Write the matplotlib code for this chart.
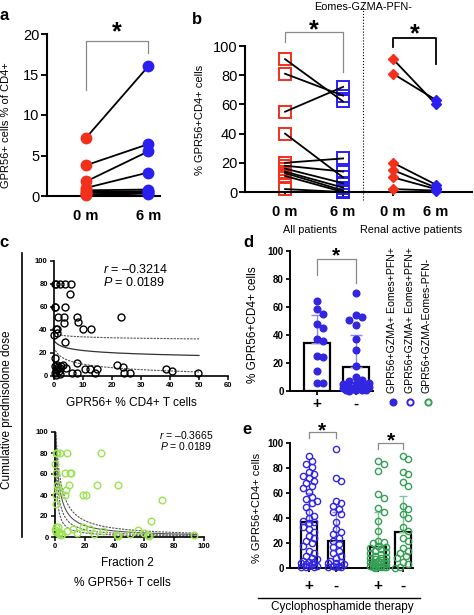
import numpy as np
import matplotlib
matplotlib.use("Agg")
import matplotlib.pyplot as plt
from matplotlib.lines import Line2D

plt.rcParams['font.family'] = ['Liberation Sans', 'DejaVu Sans']
plt.rcParams['mathtext.fontset'] = 'custom'
plt.rcParams['mathtext.it'] = 'Liberation Sans:italic'
plt.rcParams['mathtext.rm'] = 'Liberation Sans'

W, H = 474, 615

# ---- data -----------------------------------------------------------
# a: paired GPR56+ % of CD4+
a_0m = [7.2, 3.8, 1.8, 1.0, 0.7, 0.5, 0.4, 0.2, 0.1]
a_6m = [16.0, 6.4, 5.5, 2.9, 0.8, 0.6, 0.5, 0.4, 0.3]

# b: Eomes-GZMA-PFN- (all patients / renal active)
b_all_0m = [91, 81, 55, 40, 20, 18, 16, 14, 13, 11, 2]
b_all_6m = [62, 66, 72, 10, 23, 14, 6, 3, 1, 0, 0]
b_ren_0m = [91, 81, 20, 15, 10, 2]
b_ren_6m = [60, 63, 5, 3, 2, 1]
time_labels = ['0 m', '6 m', '0 m', '6 m']

# c top: prednisolone vs GPR56+ % CD4+
c1_x = [0.3, 0.8, 2.1, 3.8, 5.8,
        5.5,
        0.2, 0.4, 3.8,
        1.4, 3.4, 7.9, 23.1, 8.3, 3.4,
        0.7, 1.0, 10.0, 12.8, 0.1, 1.2,
        3.8, 0.3,
        0.5, 1.0, 1.5, 2.0, 2.5, 3.0, 4.0, 0.8, 1.8, 0.2, 1.2, 2.2, 0.6,
        7.9, 6.2, 7.9, 10.7, 12.4, 14.8, 14.1, 21.7, 23.8, 24.1, 26.2, 38.6, 40.7, 49.7]
c1_y = [80, 80, 80, 80, 80,
        71,
        60, 60, 60,
        51, 51, 51, 51, 47, 46,
        41, 41, 41, 41, 36, 37,
        30, 16,
        9, 10, 8, 7, 9, 10, 7, 5, 4, 3, 6, 2, 1,
        11, 3, 3, 6, 6, 6, 3, 10, 8, 3, 3, 6, 4, 2.5]
# fit y = a*(x+1)^b, and upper band
c1_fit = (31.0, -0.14)
c1_upper = (37.0, -0.035)

# c bottom: Fraction 2
c2_x = [0.7, 1.5, 3.4, 8.3, 31.0,
        0.0,
        0.7, 6.7, 10.0, 11.0,
        1.1, 9.6, 28.0, 42.0,
        7.4, 1.9,
        6.7, 19.0, 20.8, 0.7,
        0.4, 71.6, 64.4,
        0.5, 2.0, 0.3, 3.0, 5.0, 12.0, 19.0, 23.5, 32.0, 56.0, 60.0, 62.4,
        41.6, 42.5, 50.0, 93.0, 1.0, 2.5, 4.0, 8.0, 15.0, 26.0, 63.0]
c2_y = [80, 80, 80, 80, 80,
        70,
        61, 61, 61, 61,
        50, 50, 50, 50,
        45, 46,
        40, 40, 40, 40,
        31, 35, 15,
        10, 10, 7, 5, 3, 8, 10, 8, 6, 7, 4, 2,
        2, 1, 3, 2, 5, 3, 2, 6, 4, 3, 1]
# hyperbolic curves y = a/(x+c)
c2_curves = [(360, 3.0), (240, 2.0), (150, 1.2), (80, 0.6)]

# d
d_pos = [64.5, 58.6, 55, 48, 45, 37, 36, 25, 24, 14.3, 5.5, 5.5]
d_neg = [70, 54, 53, 51, 47, 37, 29, 18, 10, 8, 7, 6, 5, 5, 4, 3, 3, 2, 2,
         1.5, 1, 1, 0.5, 0.5, 0.3]
d_means = [34, 17.5]
d_sd = [20.5, 22.2]
d_legend = ['GPR56+GZMA+ Eomes+PFN+', 'GPR56+GZMA+ Eomes+PFN+', 'GPR56+GZMA-Eomes-PFN-']

# e
e_blue_pos = [90, 86, 83, 81, 77, 75, 74, 72, 70, 68, 66, 64, 61, 57, 55, 54, 52,
              49, 45, 42, 40, 38, 37, 36, 33, 31, 29, 26, 24, 22, 20, 18, 14, 12,
              10, 8, 7, 6, 5, 5, 4, 3, 3, 2, 2, 1, 1, 0.5]
e_blue_neg = [95, 72, 70, 54, 52, 50, 47, 45, 43, 37, 31, 29, 27, 24, 22, 19, 17,
              14, 12, 10, 8, 6, 5, 4, 4, 3, 2, 2, 1, 1, 0.5]
e_green_pos = [86, 83, 78, 59, 56, 48, 45, 38, 30, 22, 21, 20, 18, 17, 16, 15, 14,
               13, 12, 11, 10, 9, 8, 8, 7, 6, 6, 5, 5, 4, 4, 3, 3, 3, 2, 2, 2, 1,
               1, 1, 0.5, 0.5, 0]
e_green_neg = [90, 87, 77, 75, 69, 66, 50, 47, 43, 40, 33, 30, 24, 22, 16, 14, 12,
               10, 8, 5, 3, 1, 0]
e_means = [37, 22, 17, 29]
e_sd = [23, 23, 28, 29]

RED = '#f2301c'
BLUE = '#2a1ef0'
DBLUE = '#3326e0'
GREEN = '#35a055'
LIME = '#9be451'


def px_axes(fig, l, t, r, b):
    return fig.add_axes([l / W, 1 - b / H, (r - l) / W, (b - t) / H])


def ftext(x, y, s, **kw):
    fig.text(x / W, 1 - y / H, s, **kw)


def fline(xs, ys, **kw):
    fig.add_artist(Line2D([x / W for x in xs], [1 - y / H for y in ys],
                          transform=fig.transFigure, **kw))


def style(ax, lw=1.5, size=10.5, bold=False, tl=4):
    for s in ['top', 'right']:
        ax.spines[s].set_visible(False)
    for s in ['left', 'bottom']:
        ax.spines[s].set_linewidth(lw)
    ax.tick_params(width=lw * 0.9, length=tl, labelsize=size, pad=1.5)
    if bold:
        for lab in ax.get_xticklabels() + ax.get_yticklabels():
            lab.set_fontweight('bold')


def star(ax, x, y, size):
    # y is the baseline of the asterisk
    ax.text(x, y, '*', ha='center', va='baseline', fontsize=size, fontweight='bold')


def swarm(ax, x0, vals, diam, maxw):
    t = ax.transData
    ux = t.transform((1, 0))[0] - t.transform((0, 0))[0]
    uy = t.transform((0, 1))[1] - t.transform((0, 0))[1]
    placed, out = [], []
    step = diam * 0.5
    cands = [0.0]
    k = 1
    while k * step <= maxw:
        cands += [k * step, -k * step]
        k += 1
    for v in vals:
        yp = v * uy
        best, bestd = 0.0, -1
        for c in cands:
            d = min([np.hypot(c - p, yp - q) for p, q in placed] or [1e9])
            if d >= diam:
                best = c
                break
            if d > bestd:
                bestd, best = d, c
        placed.append((best, yp))
        out.append(x0 + best / ux)
    return out


fig = plt.figure(figsize=(W / 100, H / 100), dpi=100)
fig.patch.set_facecolor('white')

# ---- panel a --------------------------------------------------------
axa = px_axes(fig, 47, 34, 160, 196)
axa.set_xlim(-0.63, 1.19)
axa.set_ylim(0, 20)
for y0, y1 in zip(a_0m, a_6m):
    axa.plot([0, 1], [y0, y1], color='k', lw=1.3, zorder=2)
axa.plot([0] * len(a_0m), a_0m, 'o', color=RED, ms=7.5, clip_on=False, zorder=3)
axa.plot([1] * len(a_6m), a_6m, 'o', color=BLUE, ms=7.5, clip_on=False, zorder=3)
axa.set_yticks([0, 5, 10, 15, 20])
axa.set_xticks([0, 1])
axa.set_xticklabels(time_labels[:2], fontweight='bold')
style(axa)
axa.tick_params(axis='x', length=0, pad=9)
axa.plot([0, 0, 1, 1], [13.1, 19.1, 19.1, 17.65], color='#8a8a8a', lw=0.9, clip_on=False)
star(axa, 0.5, 19.3, 18)
ftext(6, 125, 'GPR56+ cells % of CD4+', rotation=90, ha='center', va='center', fontsize=8)

# ---- panel b --------------------------------------------------------
bx = [0, 1, 1.86, 2.60]
axb = px_axes(fig, 245, 46, 472, 192)
axb.set_xlim(-0.69, 3.22)
axb.set_ylim(0, 100)
for y0, y1 in zip(b_all_0m, b_all_6m):
    axb.plot([bx[0], bx[1]], [y0, y1], color='k', lw=1.3, zorder=3)
for y0, y1 in zip(b_ren_0m, b_ren_6m):
    axb.plot([bx[2], bx[3]], [y0, y1], color='k', lw=1.3, zorder=3)
axb.plot([bx[0]] * len(b_all_0m), b_all_0m, 's', mfc='none', mec=RED, mew=1.4,
         ms=9, clip_on=False, zorder=2)
axb.plot([bx[1]] * len(b_all_6m), b_all_6m, 's', mfc='none', mec=BLUE, mew=1.4,
         ms=9, clip_on=False, zorder=2)
axb.plot([bx[2]] * len(b_ren_0m), b_ren_0m, 'D', color=RED, ms=5.5, clip_on=False, zorder=4)
axb.plot([bx[3]] * len(b_ren_6m), b_ren_6m, 'D', color=BLUE, ms=5.5, clip_on=False, zorder=4)
axb.axvline(1.34, ymin=-0.055, ymax=1.31, ls=':', color='k', lw=0.8, clip_on=False)
axb.set_yticks([0, 20, 40, 60, 80, 100])
axb.set_xticks(bx)
axb.set_xticklabels(time_labels, fontweight='bold')
style(axb)
axb.tick_params(axis='x', length=3, pad=6)
axb.plot([bx[0], bx[0], bx[1], bx[1]], [102.7, 109.6, 109.6, 82], color='#8a8a8a',
         lw=0.9, clip_on=False)
star(axb, 0.5, 105.9, 18)
axb.plot([bx[2], bx[2], bx[3], bx[3]], [99, 105.5, 105.5, 88], color='k',
         lw=1.3, clip_on=False)
star(axb, (bx[2] + bx[3]) / 2, 103, 18)
ftext(200, 120, '% GPR56+CD4+ cells', rotation=90, ha='center', va='center', fontsize=8)
ftext(363, 7, 'Eomes-GZMA-PFN-', ha='center', va='center', fontsize=7.8)
ftext(310, 230, 'All patients', ha='center', va='center', fontsize=7.8)
ftext(360, 230, 'Renal active patients', ha='left', va='center', fontsize=7.8)

# ---- panel c --------------------------------------------------------
axc1 = px_axes(fig, 54, 261, 228, 376)
axc1.set_xlim(0, 60)
axc1.set_ylim(0, 100)
axc1.plot(c1_x, c1_y, 'o', mfc='none', mec='k', mew=1.0, ms=5, clip_on=False, zorder=3)
xf = np.linspace(0, 50, 200)
fit = c1_fit[0] * (xf + 1) ** c1_fit[1]
up = c1_upper[0] * (xf + 1) ** c1_upper[1]
axc1.plot(xf, fit, color='#333333', lw=0.9)
axc1.plot(xf, up, color='#555555', lw=0.8, ls=(0, (2, 1)))
axc1.plot(xf, 2 * fit - up, color='#555555', lw=0.8, ls=(0, (2, 1)))
axc1.set_xticks(range(0, 61, 10))
axc1.set_yticks(range(0, 101, 20))
style(axc1, lw=1.2, size=5.5, bold=True, tl=3)
ftext(103, 270, r'$\it{r}$ = –0.3214', ha='left', va='center', fontsize=9)
ftext(103, 283, r'$\it{P}$ = 0.0189', ha='left', va='center', fontsize=9)
ftext(131, 403, 'GPR56+ % CD4+ T cells', ha='center', va='center', fontsize=8.6)

axc2 = px_axes(fig, 55, 432, 204, 537)
axc2.set_xlim(0, 100)
axc2.set_ylim(0, 100)
axc2.plot(c2_x, c2_y, 'o', mfc='none', mec=LIME, mew=1.0, ms=4.8, clip_on=False, zorder=3)
xg = np.linspace(0.01, 95, 400)
for i, (ka, kc) in enumerate(c2_curves):
    ls = '-' if i == 1 else (0, (2, 1))
    axc2.plot(xg, ka / (xg + kc), color='#555555', lw=0.8, ls=ls)
axc2.set_xticks(range(0, 101, 20))
axc2.set_yticks(range(0, 101, 20))
style(axc2, lw=1.2, size=5.5, bold=True, tl=3)
ftext(159, 435, r'$\it{r}$ = –0.3665', ha='left', va='center', fontsize=7.5)
ftext(160, 446, r'$\it{P}$ = 0.0189', ha='left', va='center', fontsize=7.5)
ftext(127, 563, 'Fraction 2', ha='center', va='center', fontsize=8.6)
ftext(122, 583, '% GPR56+ T cells', ha='center', va='center', fontsize=8.6)

fline([22, 22], [253, 537], color='k', lw=1.2)
ftext(7, 410, 'Cumulative prednisolone dose', rotation=90, ha='center', va='center',
      fontsize=8.5)

# ---- panel d --------------------------------------------------------
axd = px_axes(fig, 290, 251, 373, 391)
axd.set_xlim(-0.69, 1.44)
axd.set_ylim(0, 100)
axd.bar([0, 1], d_means, width=0.67, color='white', edgecolor='k', lw=1.6, zorder=1)
axd.errorbar([0, 1], d_means, yerr=[[0, 0], d_sd], fmt='none', ecolor='#8c8cf0',
             elinewidth=1.0, capsize=4, capthick=1.0, zorder=2)
for x0, vals in [(0, d_pos), (1, d_neg)]:
    xs = swarm(axd, x0, vals, 6.5, 13)
    axd.plot(xs, vals, 'o', color=DBLUE, ms=4.8, clip_on=False, zorder=3)
axd.set_xticks([0, 1])
axd.set_xticklabels(['+', '-'])
axd.set_yticks(range(0, 101, 20))
style(axd, lw=1.4, size=7, bold=True, tl=3)
axd.tick_params(axis='x', labelsize=11, pad=1)
axd.plot([0, 0, 1, 1], [82.9, 94.3, 94.3, 77], color='#8a8a8a', lw=0.9, clip_on=False)
star(axd, 0.5, 92.8, 15)
ftext(253, 325, '% GPR56+CD4+ cells', rotation=90, ha='center', va='center', fontsize=8.5)
for xp, s in zip([392, 410, 427], d_legend):
    ftext(xp, 393, s, rotation=90, ha='center', va='bottom', fontsize=7.6)
fig.add_artist(Line2D([393 / W], [1 - 402 / H], transform=fig.transFigure, marker='o',
                      color=DBLUE, ms=4.8, ls='none'))
fig.add_artist(Line2D([410 / W], [1 - 402 / H], transform=fig.transFigure, marker='o',
                      mfc='none', mec=DBLUE, mew=1.4, ms=4.5, ls='none'))
fig.add_artist(Line2D([428 / W], [1 - 402 / H], transform=fig.transFigure, marker='o',
                      mfc='none', mec=GREEN, mew=1.4, ms=4.5, ls='none'))

# ---- panel e --------------------------------------------------------
ex = [0, 1, 2.56, 3.48]
axe = px_axes(fig, 290, 443, 413, 568)
axe.set_xlim(-0.7, 3.85)
axe.set_ylim(0, 100)
cols = [DBLUE, DBLUE, GREEN, GREEN]
ecols = ['#8c8cf0', '#8c8cf0', '#7cc594', '#7cc594']
axe.bar(ex, e_means, width=0.59, color='white', edgecolor='k', lw=1.6, zorder=1)
for i in range(4):
    axe.errorbar([ex[i]], [e_means[i]], yerr=[[0], [e_sd[i]]], fmt='none',
                 ecolor=ecols[i], elinewidth=1.0, capsize=3, capthick=1.0, zorder=2)
for i, vals in enumerate([e_blue_pos, e_blue_neg, e_green_pos, e_green_neg]):
    xs = swarm(axe, ex[i], vals, 5.5, 10)
    axe.plot(xs, vals, 'o', mfc='none', mec=cols[i], mew=1.0, ms=4.5, clip_on=False,
             zorder=3)
axe.set_xticks(ex)
axe.set_xticklabels(['+', '-', '+', '-'])
axe.set_yticks(range(0, 101, 20))
style(axe, lw=1.4, size=7, bold=True, tl=3)
axe.tick_params(axis='x', labelsize=11, pad=5)
axe.plot([ex[0], ex[0], ex[1], ex[1]], [104, 108.8, 108.8, 104], color='#8a8a8a',
         lw=0.9, clip_on=False)
star(axe, 0.5, 105.6, 15)
axe.plot([ex[2], ex[2], ex[3], ex[3]], [95, 100, 100, 95], color='#8a8a8a',
         lw=0.9, clip_on=False)
star(axe, (ex[2] + ex[3]) / 2, 97.6, 15)
ftext(257, 508, '% GPR56+CD4+ cells', rotation=90, ha='center', va='center', fontsize=8)
fline([258, 420], [598, 598], color='k', lw=1.0)
ftext(342, 607, 'Cyclophosphamide therapy', ha='center', va='center', fontsize=8.5)

# panel letters
for x, y, s in [(4, 16, 'a'), (197, 19, 'b'), (4, 242, 'c'), (248, 242, 'd'), (247, 429, 'e')]:
    ftext(x, y, s, ha='center', va='center', fontsize=12, fontweight='bold')

fig.savefig('out.png', dpi=100)
